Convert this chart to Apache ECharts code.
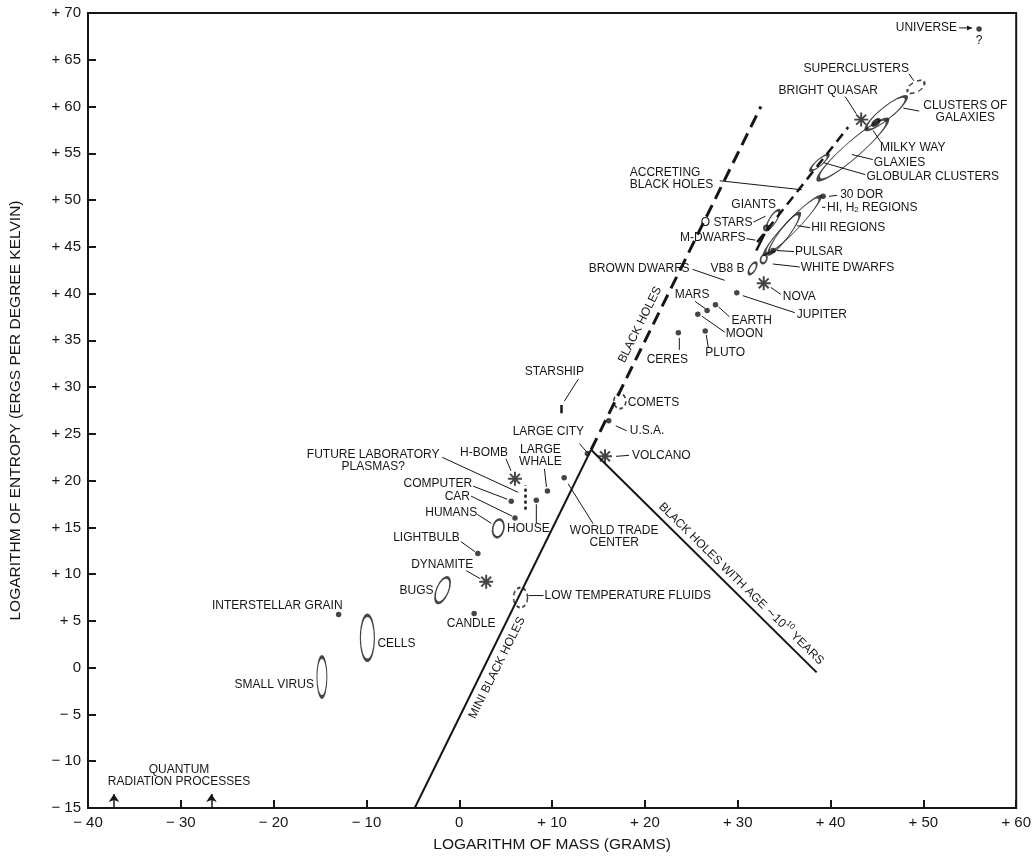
<!DOCTYPE html>
<html><head><meta charset="utf-8">
<script src="https://cdn.jsdelivr.net/npm/echarts/dist/echarts.min.js"></script>
<style>html,body{margin:0;padding:0;background:#fff}#c{width:1034px;height:858px}</style>
</head><body><div id="c"></div><script>
// ---------- DATA (log10 mass in grams, log10 entropy in erg/K) ----------
const xTicks = [-40, -30, -20, -10, 0, 10, 20, 30, 40, 50, 60];
const yTicks = [-15, -10, -5, 0, 5, 10, 15, 20, 25, 30, 35, 40, 45, 50, 55, 60, 65, 70];

const dots = [
  ['UNIVERSE', 56.0, 68.3],
  ['30 DOR', 39.2, 50.4],
  ['PULSAR', 33.8, 44.6],
  ['JUPITER', 29.9, 40.1],
  ['EARTH', 27.6, 38.8],
  ['MARS', 26.7, 38.2],
  ['MOON', 25.7, 37.8],
  ['PLUTO', 26.5, 36.0],
  ['CERES', 23.6, 35.8],
  ['U.S.A.', 16.1, 26.4],
  ['LARGE CITY', 13.8, 22.9],
  ['WORLD TRADE CENTER', 11.3, 20.3],
  ['LARGE WHALE', 9.5, 18.9],
  ['HOUSE', 8.3, 17.9],
  ['COMPUTER', 5.6, 17.8],
  ['CAR', 6.0, 16.0],
  ['LIGHTBULB', 2.0, 12.2],
  ['CANDLE', 1.6, 5.8],
  ['INTERSTELLAR GRAIN', -13.0, 5.7]
];

const bursts = [
  ['BRIGHT QUASAR', 43.3, 58.6],
  ['NOVA', 32.8, 41.1],
  ['VOLCANO', 15.7, 22.6],
  ['H-BOMB', 6.0, 20.2],
  ['DYNAMITE', 2.9, 9.2]
];

const regions = [
  ['SUPERCLUSTERS', 49.2, 62.1],
  ['CLUSTERS OF GALAXIES', 46.0, 59.3],
  ['GALAXIES', 42.4, 55.4],
  ['MILKY WAY', 44.9, 58.3],
  ['GLOBULAR CLUSTERS', 38.8, 54.0],
  ['HI, H2 REGIONS', 35.9, 47.3],
  ['HII REGIONS', 35.0, 46.4],
  ['GIANTS', 33.8, 47.9],
  ['O STARS', 33.1, 47.0],
  ['WHITE DWARFS', 32.8, 43.7],
  ['VB8 B', 31.6, 42.7],
  ['COMETS', 17.3, 28.5],
  ['LOW TEMPERATURE FLUIDS', 6.6, 7.5],
  ['HUMANS', 4.2, 14.9],
  ['BUGS', -1.8, 8.3],
  ['CELLS', -9.9, 3.2],
  ['SMALL VIRUS', -14.8, -1.0]
];

const miniBlackHoles = [[-4.8, -15], [14.2, 23.3]];
const agedBlackHoles = [[14.2, 23.3], [38.5, -0.5]];
const blackHoles = [[14.2, 23.3], [32.5, 60.0]];
const accretingBlackHoles = [[32.1, 45.5], [41.9, 57.8]];
const labPlasmas = [[7.1, 16.9], [7.1, 19.5]];
const starship = [[11.0, 27.2], [11.0, 28.1]];
const mDwarfs = [[32.0, 44.6], [32.9, 46.4]];
const quantumProcesses = [[[-37.2, -15], [-37.2, -13.5]], [[-26.7, -15], [-26.7, -13.5]]];

// ---------- STYLES / LAYOUT ----------
const INK = '#161616';
const FONT = '"Liberation Sans", Arial, Helvetica, sans-serif';
const regionStyle = {
  'SUPERCLUSTERS': {size: [19, 10], rot: 30, dash: true},
  'CLUSTERS OF GALAXIES': {size: [51, 12], rot: 39},
  'GALAXIES': {size: [91, 16], rot: 41},
  'MILKY WAY': {size: [9, 5], rot: 40, fill: true},
  'GLOBULAR CLUSTERS': {size: [23, 6], rot: 41},
  'HI, H2 REGIONS': {size: [79, 12], rot: 46},
  'HII REGIONS': {size: [50, 10], rot: 53},
  'GIANTS': {size: [22, 7], rot: 58},
  'O STARS': {size: [5, 5], rot: 0},
  'WHITE DWARFS': {size: [9, 6], rot: 70},
  'VB8 B': {size: [13, 6], rot: 60},
  'COMETS': {size: [12, 15], rot: 0, dash: true},
  'LOW TEMPERATURE FLUIDS': {size: [14, 20], rot: 0, dash: true},
  'HUMANS': {size: [18, 11], rot: 78},
  'BUGS': {size: [27, 12], rot: 68},
  'CELLS': {size: [14, 45], rot: 0},
  'SMALL VIRUS': {size: [10, 40], rot: 0}
};

function asteriskPath(bars, h) {
  let d = '';
  for (let k = 0; k < bars; k++) {
    const a = Math.PI * k / bars;
    const dx = Math.cos(a), dy = Math.sin(a), nx = -dy, ny = dx;
    const pts = [[dx + nx * h, dy + ny * h], [dx - nx * h, dy - ny * h], [-dx - nx * h, -dy - ny * h], [-dx + nx * h, -dy + ny * h]];
    d += pts.map((p, i) => (i ? 'L' : 'M') + p[0].toFixed(3) + ' ' + p[1].toFixed(3)).join(' ') + ' Z ';
  }
  return 'path://' + d;
}
const signed = v => v > 0 ? '+ ' + v : (v < 0 ? '\u2212 ' + (-v) : '0');

const chart = echarts.init(document.getElementById('c'), null, {renderer: 'canvas'});

const option = {
  backgroundColor: '#fff',
  animation: false,
  grid: {left: 83, right: 12, top: 13, bottom: 47, show: true, borderColor: INK, borderWidth: 2, backgroundColor: 'transparent'},
  xAxis: {
    type: 'value', min: xTicks[0], max: xTicks[xTicks.length - 1], interval: 10,
    name: 'LOGARITHM OF MASS (GRAMS)', nameLocation: 'middle', nameGap: 29,
    nameTextStyle: {fontFamily: FONT, fontSize: 15.5, color: INK},
    axisLine: {onZero: false, lineStyle: {color: INK, width: 2}},
    axisTick: {inside: true, length: 8, lineStyle: {color: INK, width: 2}},
    axisLabel: {formatter: signed, fontFamily: FONT, fontSize: 15, color: INK, margin: 7},
    splitLine: {show: false}
  },
  yAxis: {
    type: 'value', min: yTicks[0], max: yTicks[yTicks.length - 1], interval: 5,
    name: 'LOGARITHM OF ENTROPY (ERGS PER DEGREE KELVIN)', nameLocation: 'middle', nameGap: 64,
    nameTextStyle: {fontFamily: FONT, fontSize: 15.5, color: INK},
    axisLine: {onZero: false, lineStyle: {color: INK, width: 2}},
    axisTick: {inside: true, length: 8, lineStyle: {color: INK, width: 2}},
    axisLabel: {formatter: signed, fontFamily: FONT, fontSize: 15, color: INK, margin: 7},
    splitLine: {show: false}
  },
  series: [
    {type: 'lines', coordinateSystem: 'cartesian2d', silent: true, z: 3,
     lineStyle: {color: INK, width: 2, opacity: 1},
     data: [{coords: miniBlackHoles}, {coords: agedBlackHoles}]},
    {type: 'lines', coordinateSystem: 'cartesian2d', silent: true, z: 3,
     lineStyle: {color: INK, width: 3, type: [13, 7], opacity: 1},
     data: [{coords: blackHoles}]},
    {type: 'lines', coordinateSystem: 'cartesian2d', silent: true, z: 3,
     lineStyle: {color: INK, width: 2.5, type: [10, 6], opacity: 1},
     data: [{coords: accretingBlackHoles}]},
    {type: 'lines', coordinateSystem: 'cartesian2d', silent: true, z: 3,
     lineStyle: {color: INK, width: 2.5, type: [3, 3], opacity: 1},
     data: [{coords: labPlasmas}]},
    {type: 'lines', coordinateSystem: 'cartesian2d', silent: true, z: 3,
     lineStyle: {color: INK, width: 2.5, opacity: 1},
     data: [{coords: starship}, {coords: mDwarfs}]},
    {type: 'lines', coordinateSystem: 'cartesian2d', silent: true, z: 3,
     symbol: ['none', 'arrow'], symbolSize: 8,
     lineStyle: {color: INK, width: 1.5, opacity: 1},
     data: quantumProcesses.map(c => ({coords: c}))},
    {type: 'scatter', name: 'objects', silent: true, z: 4,
     symbol: 'circle', symbolSize: 5.5, itemStyle: {color: INK},
     data: dots.map(d => ({name: d[0], value: [d[1], d[2]]}))},
    {type: 'scatter', name: 'bursts', silent: true, z: 4,
     symbol: asteriskPath(4, 0.14), symbolSize: 14, itemStyle: {color: INK},
     data: bursts.map(d => ({name: d[0], value: [d[1], d[2]]}))},
    {type: 'scatter', name: 'regions', silent: true, z: 4,
     data: regions.map(d => {
       const s = regionStyle[d[0]];
       return {name: d[0], value: [d[1], d[2]], symbol: 'circle', symbolSize: s.size, symbolRotate: s.rot,
         itemStyle: {color: s.fill ? INK : 'rgba(0,0,0,0)', borderColor: INK, borderWidth: s.dash ? 1.8 : 2,
           borderType: s.dash ? [4, 3] : 'solid'}};
     })}
  ]
};
chart.setOption(option);

// ---------- ANNOTATIONS (pixel offsets from the anchored data point) ----------
const lookup = {};
[dots, bursts, regions].forEach(arr => arr.forEach(d => { lookup[d[0]] = [d[1], d[2]]; }));
lookup['M-DWARFS'] = [(mDwarfs[0][0] + mDwarfs[1][0]) / 2, (mDwarfs[0][1] + mDwarfs[1][1]) / 2];
lookup['STARSHIP'] = [(starship[0][0] + starship[1][0]) / 2, (starship[0][1] + starship[1][1]) / 2];
lookup['PLASMAS'] = labPlasmas[1];
lookup['JUNCTION'] = miniBlackHoles[1];
lookup['QUANTUM'] = quantumProcesses[0][0];
lookup['ACCRETING'] = [36.9, 51.1];

const notes = [
  {at: 'UNIVERSE', text: 'UNIVERSE', align: 'right', t: [-22, -1], lead: [[-20, -1], [-7, -1]], arrow: true},
  {at: 'UNIVERSE', text: '?', align: 'center', t: [0, 12]},
  {at: 'SUPERCLUSTERS', text: 'SUPERCLUSTERS', align: 'right', t: [-7, -18], lead: [[-7, -13], [-2, -6]]},
  {at: 'BRIGHT QUASAR', text: 'BRIGHT QUASAR', align: 'center', t: [-33, -29], lead: [[-16, -23], [-5, -6]]},
  {at: 'CLUSTERS OF GALAXIES', text: 'CLUSTERS OF\nGALAXIES', align: 'center', t: [79, -1], lead: [[33, -2], [17, -5]]},
  {at: 'MILKY WAY', text: 'MILKY WAY', align: 'left', t: [4, 25], lead: [[5, 20], [-3, 8]]},
  {at: 'GALAXIES', text: 'GLAXIES', align: 'left', t: [21, 13], lead: [[20, 10], [-1, 5]]},
  {at: 'GLOBULAR CLUSTERS', text: 'GLOBULAR CLUSTERS', align: 'left', t: [47, 14], lead: [[46, 12], [4, 0]]},
  {at: 'ACCRETING', text: 'ACCRETING\nBLACK HOLES', align: 'left', t: [-172, -11], lead: [[-82, -9], [0, 0]]},
  {at: '30 DOR', text: '30 DOR', align: 'left', t: [17, -2], lead: [[6, 0], [14, -1]]},
  {at: 'HI, H2 REGIONS', text: 'HI, H{sub|2} REGIONS', align: 'left', t: [34.5, -17.5], lead: [[29.5, -18], [33, -18]]},
  {at: 'HII REGIONS', text: 'HII REGIONS', align: 'left', t: [27, -6], lead: [[26, -6], [13, -8]]},
  {at: 'GIANTS', text: 'GIANTS', align: 'right', t: [3, -15]},
  {at: 'O STARS', text: 'O STARS', align: 'right', t: [-14, -5], lead: [[-13, -6], [-1, -12]]},
  {at: 'M-DWARFS', text: 'M-DWARFS', align: 'right', t: [-15, -4], lead: [[-14, -3.5], [-5, -2]]},
  {at: 'PULSAR', text: 'PULSAR', align: 'left', t: [22, 1], lead: [[21, 1], [4, 0]]},
  {at: 'WHITE DWARFS', text: 'WHITE DWARFS', align: 'left', t: [37, 9], lead: [[36, 8], [9, 5]]},
  {at: 'VB8 B', text: 'BROWN DWARFS', align: 'right', t: [-63, 0], lead: [[-60, 1], [-28, 12]]},
  {at: 'VB8 B', text: 'VB8 B', align: 'right', t: [-8, 0]},
  {at: 'NOVA', text: 'NOVA', align: 'left', t: [19, 13], lead: [[17, 11], [7, 4]]},
  {at: 'JUPITER', text: 'JUPITER', align: 'left', t: [60, 22], lead: [[58, 20], [6, 3]]},
  {at: 'MARS', text: 'MARS', align: 'center', t: [-15, -16], lead: [[-12, -9], [-2, -2]]},
  {at: 'EARTH', text: 'EARTH', align: 'left', t: [16, 16], lead: [[14, 12], [3, 2]]},
  {at: 'MOON', text: 'MOON', align: 'left', t: [28, 20], lead: [[27, 18], [4, 2]]},
  {at: 'PLUTO', text: 'PLUTO', align: 'left', t: [0, 22], lead: [[3, 16], [1, 4]]},
  {at: 'CERES', text: 'CERES', align: 'center', t: [-11, 27], lead: [[1, 17], [1, 5]]},
  {at: 'STARSHIP', text: 'STARSHIP', align: 'center', t: [-7, -37], lead: [[17, -30], [3, -8]]},
  {at: 'COMETS', text: 'COMETS', align: 'left', t: [8, 2]},
  {at: 'U.S.A.', text: 'U.S.A.', align: 'left', t: [21, 10], lead: [[18, 10], [7, 5]]},
  {at: 'LARGE CITY', text: 'LARGE CITY', align: 'center', t: [-39, -22], lead: [[-8, -10], [-1, -2]]},
  {at: 'VOLCANO', text: 'VOLCANO', align: 'left', t: [27, -1], lead: [[24, -1], [11, 0]]},
  {at: 'LARGE WHALE', text: 'LARGE\nWHALE', align: 'center', t: [-7, -35], lead: [[-3, -22], [-1, -4]]},
  {at: 'WORLD TRADE CENTER', text: 'WORLD TRADE\nCENTER', align: 'center', t: [50, 59], lead: [[29, 46], [4, 6]]},
  {at: 'H-BOMB', text: 'H-BOMB', align: 'center', t: [-31, -26], lead: [[-9, -20], [-4, -8]]},
  {at: 'PLASMAS', text: 'FUTURE LABORATORY\nPLASMAS?', align: 'center', t: [-152, -24.5], lead: [[-83, -28], [-7, 7]]},
  {at: 'COMPUTER', text: 'COMPUTER', align: 'right', t: [-39, -18], lead: [[-38, -15], [-4, -2]]},
  {at: 'CAR', text: 'CAR', align: 'right', t: [-45, -21], lead: [[-44, -22], [-3, -2]]},
  {at: 'HUMANS', text: 'HUMANS', align: 'right', t: [-21, -16], lead: [[-21, -14], [-7, -5]]},
  {at: 'HOUSE', text: 'HOUSE', align: 'center', t: [-8, 28], lead: [[0, 23], [0, 4]]},
  {at: 'LIGHTBULB', text: 'LIGHTBULB', align: 'right', t: [-18, -16], lead: [[-17, -12], [-3, -2]]},
  {at: 'DYNAMITE', text: 'DYNAMITE', align: 'right', t: [-13, -17], lead: [[-20, -11], [-6, -3]]},
  {at: 'BUGS', text: 'BUGS', align: 'right', t: [-9, 1]},
  {at: 'LOW TEMPERATURE FLUIDS', text: 'LOW TEMPERATURE FLUIDS', align: 'left', t: [24, -2], lead: [[8, -2], [23, -2]]},
  {at: 'CANDLE', text: 'CANDLE', align: 'center', t: [-3, 10]},
  {at: 'INTERSTELLAR GRAIN', text: 'INTERSTELLAR GRAIN', align: 'right', t: [4, -9]},
  {at: 'CELLS', text: 'CELLS', align: 'left', t: [10, 6]},
  {at: 'SMALL VIRUS', text: 'SMALL VIRUS', align: 'right', t: [-8, 8]},
  {at: 'QUANTUM', text: 'QUANTUM\nRADIATION PROCESSES', align: 'center', t: [65, -32]},
  {at: 'JUNCTION', text: 'BLACK HOLES', align: 'center', t: [49, -125], rot: 63.5},
  {at: 'JUNCTION', text: 'MINI BLACK HOLES', align: 'center', t: [-94, 218], rot: 63.5},
  {at: 'JUNCTION', text: 'BLACK HOLES WITH AGE \u223C10{sup|10} YEARS', align: 'center', t: [150, 134], rot: -44.4}
];

const graphics = [];
notes.forEach(n => {
  const p = chart.convertToPixel({gridIndex: 0}, lookup[n.at]);
  graphics.push({
    type: 'text', silent: true, z: 10,
    x: p[0] + n.t[0], y: p[1] + n.t[1],
    rotation: n.rot ? n.rot * Math.PI / 180 : 0,
    style: {
      text: n.text, x: 0, y: 0, fill: INK,
      fontFamily: FONT, fontSize: 12, lineHeight: 12,
      align: n.align, verticalAlign: 'middle', textAlign: n.align, textVerticalAlign: 'middle',
      rich: {
        sub: {fontFamily: FONT, fontSize: 8, lineHeight: 6, verticalAlign: 'bottom', fill: INK},
        sup: {fontFamily: FONT, fontSize: 8, lineHeight: 18, verticalAlign: 'top', fill: INK}
      }
    }
  });
  if (n.lead) {
    const a = [p[0] + n.lead[0][0], p[1] + n.lead[0][1]];
    const b = [p[0] + n.lead[1][0], p[1] + n.lead[1][1]];
    graphics.push({type: 'line', silent: true, z: 9,
      shape: {x1: a[0], y1: a[1], x2: b[0], y2: b[1]},
      style: {stroke: INK, lineWidth: 1}});
    if (n.arrow) {
      const ang = Math.atan2(b[1] - a[1], b[0] - a[0]);
      const L = 5, W = 2.5;
      const bx = b[0] - L * Math.cos(ang), by = b[1] - L * Math.sin(ang);
      graphics.push({type: 'polygon', silent: true, z: 9,
        shape: {points: [[b[0], b[1]], [bx - W * Math.sin(ang), by + W * Math.cos(ang)], [bx + W * Math.sin(ang), by - W * Math.cos(ang)]]},
        style: {fill: INK}});
    }
  }
});
chart.setOption({graphic: graphics});
</script></body></html>
